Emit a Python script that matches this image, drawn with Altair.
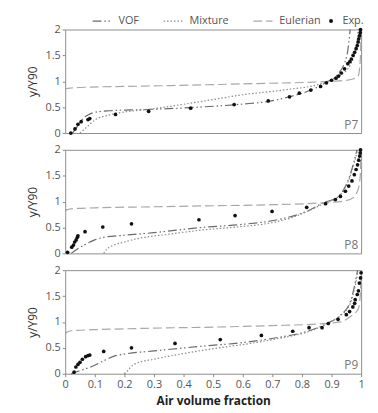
import altair as alt
import pandas as pd

line_names = ["VOF", "Mixture", "Eulerian"]
line_colors = ["#6a6a6a", "#8a8a8a", "#a8a8a8"]
line_dashes = [[9, 3, 1.5, 2.5, 1.5, 3], [1.5, 2], [9, 4]]
exp_name = "Exp."
exp_color = "#111111"
series_names = line_names + [exp_name]

panel_names = ["P7", "P8", "P9"]

# ---------------- P7 ----------------
p7_vof_x = [0.025, 0.04, 0.06, 0.08, 0.1, 0.15, 0.3, 0.45, 0.6, 0.686, 0.758, 0.83, 0.886, 0.919, 0.952, 0.963]
p7_vof_y = [0.0, 0.12, 0.28, 0.36, 0.4, 0.43, 0.46, 0.5, 0.56, 0.61, 0.70, 0.83, 0.99, 1.12, 1.5, 2.0]
p7_mix_x = [0.05, 0.07, 0.1, 0.15, 0.3, 0.45, 0.6, 0.75, 0.85, 0.897, 0.93, 0.963, 0.986, 0.99]
p7_mix_y = [0.0, 0.1, 0.25, 0.35, 0.47, 0.6, 0.74, 0.84, 0.93, 1.02, 1.12, 1.31, 1.75, 2.0]
p7_eul_x = [0.0, 0.005, 0.02, 0.05, 0.3, 0.6, 0.9, 0.95, 0.975, 0.99, 0.997, 1.0]
p7_eul_y = [0.82, 0.86, 0.87, 0.88, 0.91, 0.95, 1.0, 1.02, 1.05, 1.1, 1.4, 2.0]
p7_exp_x = [0.019, 0.033, 0.043, 0.054, 0.077, 0.083, 0.17, 0.282, 0.424, 0.571, 0.686, 0.758,
            0.791, 0.83, 0.863, 0.883, 0.9, 0.915, 0.924, 0.933, 0.944, 0.955, 0.962, 0.967,
            0.973, 0.978, 0.983, 0.987, 0.99, 0.992, 0.995, 0.997, 0.998]
p7_exp_y = [0.0, 0.08, 0.17, 0.22, 0.26, 0.28, 0.36, 0.42, 0.48, 0.55, 0.62, 0.70,
            0.77, 0.83, 0.9, 0.97, 1.02, 1.06, 1.1, 1.16, 1.24, 1.34, 1.38, 1.43,
            1.5, 1.56, 1.63, 1.69, 1.76, 1.82, 1.88, 1.94, 2.0]

# ---------------- P8 ----------------
p8_vof_x = [0.02, 0.04, 0.07, 0.1, 0.13, 0.2, 0.3, 0.46, 0.597, 0.708, 0.819, 0.874, 0.919, 0.963, 0.986]
p8_vof_y = [0.0, 0.08, 0.18, 0.26, 0.31, 0.35, 0.4, 0.5, 0.56, 0.64, 0.82, 0.98, 1.08, 1.52, 2.0]
p8_mix_x = [0.13, 0.14, 0.16, 0.2, 0.24, 0.35, 0.46, 0.58, 0.686, 0.76, 0.83, 0.88, 0.921, 0.965, 0.988]
p8_mix_y = [0.0, 0.08, 0.15, 0.22, 0.28, 0.37, 0.45, 0.51, 0.58, 0.68, 0.84, 0.98, 1.08, 1.52, 2.0]
p8_eul_x = [0.0, 0.005, 0.02, 0.1, 0.3, 0.5, 0.7, 0.85, 0.941, 0.974, 0.991, 0.997, 1.0]
p8_eul_y = [0.8, 0.84, 0.86, 0.88, 0.9, 0.92, 0.94, 0.97, 1.01, 1.08, 1.26, 1.5, 2.0]
p8_exp_x = [0.008, 0.022, 0.028, 0.032, 0.037, 0.041, 0.043, 0.067, 0.127, 0.224, 0.452, 0.574,
            0.699, 0.816, 0.88, 0.913, 0.93, 0.947, 0.958, 0.969, 0.977, 0.983, 0.988, 0.992,
            0.995, 0.997, 0.998]
p8_exp_y = [0.02, 0.12, 0.16, 0.22, 0.26, 0.31, 0.34, 0.42, 0.51, 0.57, 0.65, 0.73,
            0.81, 0.89, 0.96, 1.04, 1.1, 1.2, 1.3, 1.4, 1.52, 1.62, 1.71, 1.8,
            1.88, 1.94, 2.0]

# ---------------- P9 ----------------
p9_vof_x = [0.02, 0.05, 0.086, 0.13, 0.165, 0.2, 0.3, 0.46, 0.597, 0.708, 0.819, 0.886, 0.93, 0.963, 0.98, 0.988]
p9_vof_y = [0.0, 0.06, 0.13, 0.25, 0.34, 0.38, 0.44, 0.53, 0.6, 0.69, 0.82, 0.975, 1.13, 1.38, 1.76, 2.0]
p9_mix_x = [0.2, 0.21, 0.222, 0.24, 0.3, 0.41, 0.52, 0.62, 0.72, 0.82, 0.886, 0.93, 0.963, 0.98, 0.99]
p9_mix_y = [0.0, 0.05, 0.13, 0.2, 0.28, 0.4, 0.5, 0.58, 0.68, 0.81, 0.97, 1.12, 1.35, 1.7, 2.0]
p9_eul_x = [0.0, 0.005, 0.02, 0.1, 0.3, 0.5, 0.7, 0.85, 0.93, 0.963, 0.991, 0.997, 1.0]
p9_eul_y = [0.75, 0.8, 0.83, 0.85, 0.88, 0.9, 0.93, 0.96, 1.0, 1.1, 1.26, 1.5, 2.0]
p9_exp_x = [0.03, 0.036, 0.043, 0.05, 0.058, 0.069, 0.077, 0.083, 0.13, 0.224, 0.371, 0.524,
            0.663, 0.769, 0.824, 0.868, 0.889, 0.922, 0.95, 0.961, 0.972, 0.978, 0.98, 0.987,
            0.991, 0.994, 0.998, 1.0]
p9_exp_y = [0.03, 0.13, 0.18, 0.22, 0.28, 0.33, 0.35, 0.36, 0.43, 0.5, 0.585, 0.66,
            0.74, 0.82, 0.89, 0.89, 0.97, 1.05, 1.14, 1.2, 1.29, 1.36, 1.43, 1.53,
            1.6, 1.75, 1.85, 1.95]

y_tick_count = 4   # 0, 0.5, 1, 1.5, 2
x_tick_count = 10  # 0, 0.1, ..., 1

panels = {
    "P7": [(p7_vof_x, p7_vof_y), (p7_mix_x, p7_mix_y), (p7_eul_x, p7_eul_y), (p7_exp_x, p7_exp_y)],
    "P8": [(p8_vof_x, p8_vof_y), (p8_mix_x, p8_mix_y), (p8_eul_x, p8_eul_y), (p8_exp_x, p8_exp_y)],
    "P9": [(p9_vof_x, p9_vof_y), (p9_mix_x, p9_mix_y), (p9_eul_x, p9_eul_y), (p9_exp_x, p9_exp_y)],
}

FONT = "Open Sans"

color_scale = alt.Scale(domain=line_names, range=line_colors)
dash_scale = alt.Scale(domain=line_names, range=line_dashes)
fill_scale = alt.Scale(domain=[exp_name], range=[exp_color])

line_legend = alt.Legend(
    title=None, orient="none", direction="horizontal", legendX=27, legendY=-19,
    symbolType="stroke", symbolSize=380, symbolStrokeWidth=1.3,
    labelFont=FONT, labelFontSize=11, labelColor="#555", labelOffset=6,
    columnPadding=22, gridAlign="none",
)
exp_legend = alt.Legend(
    title=None, orient="none", direction="horizontal", legendX=264, legendY=-14,
    symbolType="circle", symbolSize=16, symbolStrokeWidth=0,
    labelFont=FONT, labelFontSize=11, labelColor="#555", labelOffset=6,
)


def make_panel(name, show_x):
    rows = []
    for s, (xs, ys) in zip(series_names, panels[name]):
        for i, (xv, yv) in enumerate(zip(xs, ys)):
            rows.append({"series": s, "x": xv, "y": yv, "i": i})
    df = pd.DataFrame(rows)
    if show_x:
        x_axis = alt.Axis(tickCount=x_tick_count, format="~g", title="Air volume fraction",
                          titleFont=FONT, titleFontSize=12, titleFontWeight="bold",
                          titleColor="#222", titlePadding=6, labelPadding=2,
                          labelOverlap=False, labelFlush=False)
    else:
        x_axis = None
    xenc = alt.X("x:Q", scale=alt.Scale(domain=[0, 1], nice=False, zero=False), axis=x_axis)
    yenc = alt.Y("y:Q", scale=alt.Scale(domain=[0, 2], nice=False),
                 axis=alt.Axis(tickCount=y_tick_count, format="~g", title="y/Y90",
                               titleFont=FONT, titleFontSize=12, titleFontWeight="normal",
                               titleColor="#333", titlePadding=6, labelOverlap=False,
                               labelFlush=False))
    base = alt.Chart(df)
    lines = base.transform_filter(alt.datum.series != exp_name).mark_line(
        strokeWidth=1.2, interpolate="monotone"
    ).encode(
        x=xenc, y=yenc,
        color=alt.Color("series:N", scale=color_scale, legend=line_legend),
        strokeDash=alt.StrokeDash("series:N", scale=dash_scale, legend=line_legend),
        detail="series:N",
    )
    pts = base.transform_filter(alt.datum.series == exp_name).mark_circle(
        size=14, opacity=1
    ).encode(
        x=xenc, y=yenc,
        fill=alt.Fill("series:N", scale=fill_scale, legend=exp_legend),
    )
    label = alt.Chart(pd.DataFrame({"t": [name]})).mark_text(
        align="right", baseline="bottom", font=FONT, fontSize=12, color="#777"
    ).encode(x=alt.datum(0.99), y=alt.datum(0.03), text="t:N")
    return alt.layer(lines, pts, label).properties(width=300, height=105)


chart = alt.vconcat(
    make_panel("P7", False),
    make_panel("P8", False),
    make_panel("P9", True),
    spacing=4,
).resolve_scale(x="shared", color="shared", strokeDash="shared", fill="shared").properties(
    padding={"left": 18, "top": 0, "right": 5, "bottom": 0}
).configure_view(
    stroke="#8c8c8c", strokeWidth=1
).configure_axis(
    domain=False, grid=False, tickColor="#888", tickSize=3,
    labelFont=FONT, labelFontSize=11, labelColor="#555"
)

chart.save("out.html", embed_options={"renderer": "svg", "actions": False})
